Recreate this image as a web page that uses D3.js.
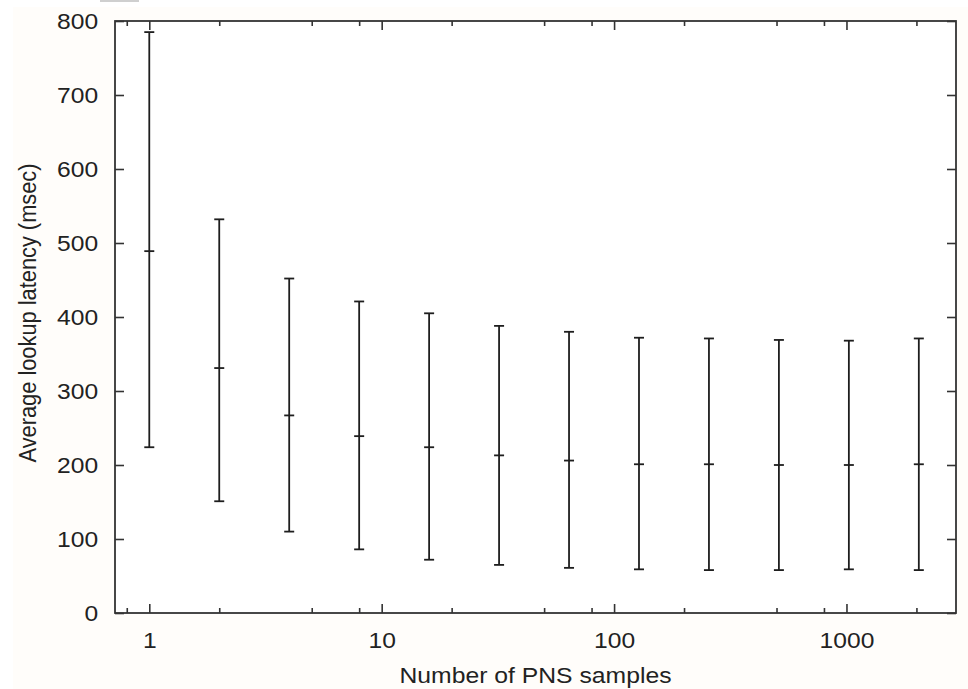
<!DOCTYPE html>
<html>
<head>
<meta charset="utf-8">
<script src="https://cdn.jsdelivr.net/npm/d3@7"></script>
<style>
  body { margin: 0; background: #fff; }
  svg { display: block; font-family: "Liberation Sans", Arial, sans-serif; }
</style>
</head>
<body>
<svg></svg>
<script>
// number of PNS samples (x) and latency stats (msec)
const samples = [1, 2, 4, 8, 16, 32, 64, 128, 256, 512, 1024, 2048];
const lowVals = [224, 151, 110, 86, 72, 65, 61, 59, 58, 58, 59, 58];
const midVals = [489, 331, 267, 239, 224, 213, 206, 201, 201, 200, 200, 201];
const highVals = [785, 532, 452, 421, 405, 388, 380, 372, 371, 369, 368, 371];

const xMajor = [1, 10, 100, 1000];
const xMinor = [0.8, 2, 5, 8, 20, 50, 80, 200, 500, 800, 2000];
const yTicks = [0, 100, 200, 300, 400, 500, 600, 700, 800];

const size = {w: 968, h: 689};
const plot = {l: 115, r: 956, t: 21, b: 613};
const stretch = 1.12; // the picture is a bit wider than tall

const svg = d3.select('svg')
    .attr('width', size.w)
    .attr('height', size.h);

// faint paper tint + scrap at top like the scan
svg.append('rect')
    .attr('x', 13).attr('y', 7)
    .attr('width', size.w - 13).attr('height', size.h - 7)
    .attr('fill', '#fffdfa');
svg.append('rect')
    .attr('x', 100).attr('y', 0)
    .attr('width', 39).attr('height', 2)
    .attr('fill', '#cfcfcf');
svg.append('rect')
    .attr('x', plot.l).attr('y', plot.t)
    .attr('width', plot.r - plot.l).attr('height', plot.b - plot.t)
    .attr('fill', '#fff');

const x = d3.scaleLog()
    .domain([0.712, 2960])
    .range([plot.l, plot.r]);

const y = d3.scaleLinear()
    .domain([0, 800])
    .range([plot.b, plot.t]);

const data = samples.map((s, i) => ({s: s, lo: lowVals[i], mid: midVals[i], hi: highVals[i]}));

// ---- axes (ticks inward on all four sides) ----
function styleAxis(g) {
    g.select('.domain').remove();
    g.selectAll('line').attr('stroke', '#333').attr('stroke-width', 1.6);
    g.selectAll('text')
        .attr('fill', '#222')
        .style('font-size', '22px')
        .attr('transform', `scale(${stretch},1)`);
}

svg.append('g')
    .attr('transform', `translate(0,${plot.b})`)
    .call(d3.axisBottom(x).tickValues(xMajor).tickFormat(d3.format('d'))
        .tickSizeInner(-9).tickSizeOuter(0).tickPadding(19))
    .call(styleAxis);

svg.append('g')
    .attr('transform', `translate(0,${plot.b})`)
    .call(d3.axisBottom(x).tickValues(xMinor).tickFormat('')
        .tickSizeInner(-5).tickSizeOuter(0))
    .call(styleAxis);

svg.append('g')
    .attr('transform', `translate(0,${plot.t})`)
    .call(d3.axisTop(x).tickValues(xMajor).tickFormat('')
        .tickSizeInner(-9).tickSizeOuter(0))
    .call(styleAxis);

svg.append('g')
    .attr('transform', `translate(0,${plot.t})`)
    .call(d3.axisTop(x).tickValues(xMinor).tickFormat('')
        .tickSizeInner(-5).tickSizeOuter(0))
    .call(styleAxis);

svg.append('g')
    .attr('transform', `translate(${plot.l},0)`)
    .call(d3.axisLeft(y).tickValues(yTicks)
        .tickSizeInner(-9).tickSizeOuter(0).tickPadding(15))
    .call(styleAxis);

svg.append('g')
    .attr('transform', `translate(${plot.r},0)`)
    .call(d3.axisRight(y).tickValues(yTicks).tickFormat('')
        .tickSizeInner(-9).tickSizeOuter(0))
    .call(styleAxis);

// frame
svg.append('rect')
    .attr('x', plot.l).attr('y', plot.t)
    .attr('width', plot.r - plot.l).attr('height', plot.b - plot.t)
    .attr('fill', 'none')
    .attr('stroke', '#333')
    .attr('stroke-width', 1.8);

// ---- error bars ----
const capW = 5;
const barsG = svg.append('g')
    .attr('stroke', '#1e1e1e')
    .attr('stroke-width', 1.8);

const bar = barsG.selectAll('g.bar')
    .data(data)
    .join('g')
    .classed('bar', true)
    .attr('transform', d => `translate(${x(d.s)},0)`);

bar.append('line')
    .attr('x1', 0).attr('x2', 0)
    .attr('y1', d => y(d.lo))
    .attr('y2', d => y(d.hi));

['lo', 'mid', 'hi'].forEach(k => {
    bar.append('line')
        .attr('x1', -capW).attr('x2', capW)
        .attr('y1', d => y(d[k]))
        .attr('y2', d => y(d[k]));
});

// ---- axis titles ----
svg.append('text')
    .attr('x', (plot.l + plot.r) / 2)
    .attr('y', 683)
    .attr('text-anchor', 'middle')
    .attr('fill', '#222')
    .style('font-size', '22px')
    .attr('textLength', 272)
    .attr('lengthAdjust', 'spacingAndGlyphs')
    .text('Number of PNS samples');

svg.append('text')
    .attr('transform', `translate(36,${(plot.t + plot.b) / 2 - 4}) rotate(-90) scale(1,${stretch})`)
    .attr('text-anchor', 'middle')
    .attr('fill', '#222')
    .style('font-size', '22px')
    .attr('textLength', 299)
    .attr('lengthAdjust', 'spacingAndGlyphs')
    .text('Average lookup latency (msec)');
</script>
</body>
</html>
